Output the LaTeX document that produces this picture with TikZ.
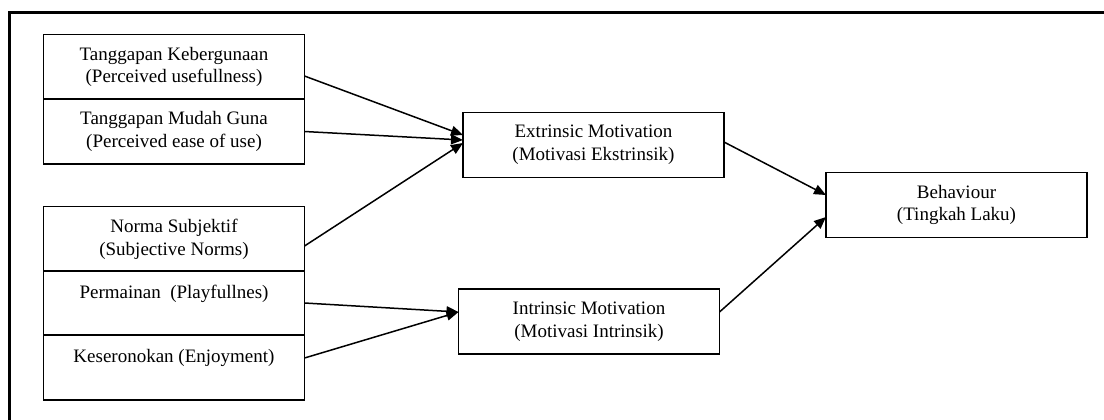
\documentclass[tikz,border=0pt]{standalone}
\usepackage{fontspec}
\setmainfont{Liberation Serif}
\usetikzlibrary{arrows.meta,calc}
\tikzset{
  box/.style={draw,line width=0.8pt,minimum width=130.5pt,minimum height=32.5pt,
    inner sep=0pt,outer sep=0pt,align=center,font=\fontsize{9.5}{11.35}\selectfont},
  link/.style={line width=0.75pt,-{Triangle[length=6pt,width=5pt]}}
}
\begin{document}
\begin{tikzpicture}[x=0.5pt,y=-0.5pt]
  \useasboundingbox (0,0) rectangle (1104,419);
  \draw[line width=1.1pt] (9.5,440) |- (1120,12.5);
  % left column
  \node[box] (useful) at (174,67) {Tanggapan Kebergunaan\\(Perceived usefullness)};
  \node[box] (ease) at (174,131.5) {Tanggapan Mudah Guna\\(Perceived ease of use)};
  \node[box] (norm) at (174,239) {Norma Subjektif\\(Subjective Norms)};
  \node[box] (play) at (174,303) {Permainan\ \ (Playfullnes)\\\mbox{}};
  \node[box] (enjoy) at (174,367.5) {Keseronokan (Enjoyment)\\\mbox{}};
  % motivations
  \node[box] (extr) at (593.5,145) {Extrinsic Motivation\\(Motivasi Ekstrinsik)};
  \node[box] (intr) at (589,321.5) {Intrinsic Motivation\\(Motivasi Intrinsik)};
  \node[box] (behav) at (956.5,205) {Behaviour\\(Tingkah Laku)};
  % arrows
  \draw[link] ($(useful.east)+(0,9)$) -- ($(extr.west)+(0,-10)$);
  \draw[link] (ease.east) -- ($(extr.west)+(0,-5)$);
  \draw[link] ($(norm.east)+(0,7)$) -- ($(extr.west)+(0,-2)$);
  \draw[link] (play.east) -- ($(intr.west)+(0,-9.5)$);
  \draw[link] ($(enjoy.east)+(0,-9.5)$) -- ($(intr.west)+(0,-9.5)$);
  \draw[link] ($(extr.east)+(0,-3)$) -- ($(behav.west)+(0,-10)$);
  \draw[link] ($(intr.east)+(0,-9.5)$) -- ($(behav.west)+(0,12)$);
\end{tikzpicture}
\end{document}
